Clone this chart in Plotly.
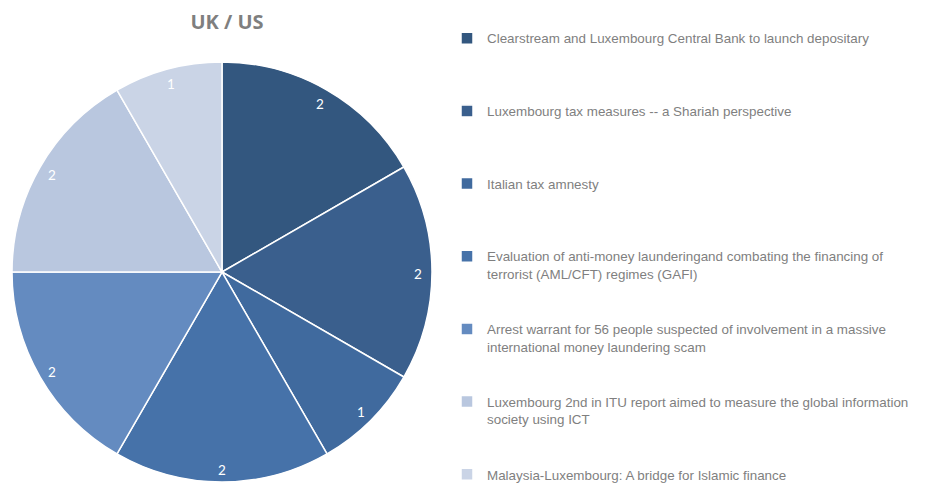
import math
import plotly.graph_objects as go

categories = [
    "Clearstream and Luxembourg Central Bank to launch depositary",
    "Luxembourg tax measures -- a Shariah perspective",
    "Italian tax amnesty",
    "Evaluation of anti-money launderingand combating the financing of<br>terrorist (AML/CFT) regimes (GAFI)",
    "Arrest warrant for 56 people suspected of involvement in a massive<br>international money laundering scam",
    "Luxembourg 2nd in ITU report aimed to measure the global information<br>society using ICT",
    "Malaysia-Luxembourg: A bridge for Islamic finance",
]
values = [2, 2, 1, 2, 2, 2, 1]
colors = ["#33577F", "#3A5F8D", "#406A9E", "#4672A9", "#648BC0", "#B9C7DF", "#CAD4E6"]
title = "UK / US"

# figure is a little taller than the 483px window so the legend can reach the bottom
W, H = 931, 490
# pie geometry in pixels
cx, cy, r = 222, 272, 210

# pad legend labels (all but the last) to 4 lines each for even spacing
labels = []
for i, c in enumerate(categories):
    n = c.count("<br>") + 1
    pad = 0 if i == len(categories) - 1 else 4 - n
    labels.append(c + "<br>\u00a0" * pad)

fig = go.Figure(go.Pie(
    labels=labels,
    values=values,
    sort=False,
    direction="clockwise",
    rotation=0,
    marker=dict(colors=colors, line=dict(color="white", width=1.5)),
    textinfo="none",
    hoverinfo="label+value",
    domain=dict(x=[(cx - r) / W, (cx + r) / W], y=[(H - cy - r) / H, (H - cy + r) / H]),
))

# value labels near the outer edge of each slice, computed from the data
total = sum(values)
cum = 0
annotations = []
for v in values:
    mid = (cum + v / 2) / total * 2 * math.pi
    cum += v
    d = r - 14
    px = cx + d * math.sin(mid)
    py = cy - d * math.cos(mid) + 1.5
    annotations.append(dict(
        x=px / W, y=1 - py / H, xref="paper", yref="paper",
        xanchor="center", yanchor="middle",
        text=str(v), showarrow=False,
        font=dict(family="Lato, sans-serif", size=13.5, color="white"),
    ))

fig.update_layout(
    width=W, height=H,
    margin=dict(l=0, r=0, t=0, b=0),
    paper_bgcolor="white",
    plot_bgcolor="white",
    title=dict(text="<b>" + title + "</b>", x=227 / W, xanchor="center", y=1 - 22 / H, yanchor="middle",
               font=dict(family="Open Sans, sans-serif", size=20, color="#7F7F7F")),
    showlegend=True,
    legend=dict(
        x=447 / W, xanchor="left", y=1 - 28 / H, yanchor="top",
        valign="top",
        font=dict(family="Liberation Sans, Arial, sans-serif", size=13.4, color="#7F7F7F"),
        bgcolor="rgba(0,0,0,0)",
        itemclick=False,
    ),
    annotations=annotations,
)

fig.write_html(
    "out.html",
    post_script="document.body.style.margin='0';document.body.style.overflow='hidden';"
                "document.documentElement.style.overflow='hidden';",
    config={"displayModeBar": False},
)
